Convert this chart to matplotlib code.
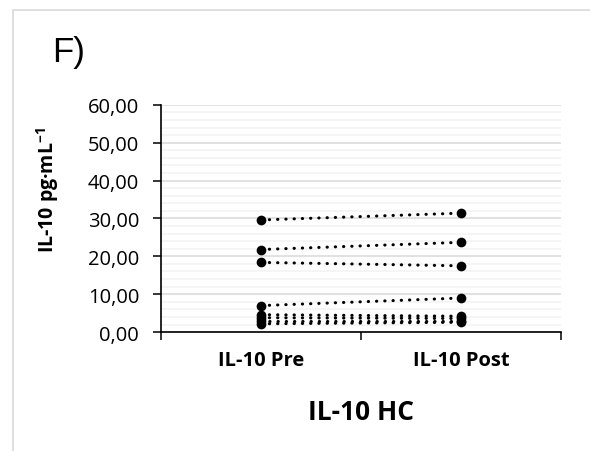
import numpy as np
import matplotlib
matplotlib.use("Agg")
import matplotlib.pyplot as plt
from matplotlib.patches import Rectangle
from matplotlib.ticker import FuncFormatter, MultipleLocator

plt.rcParams['font.family'] = ['Open Sans', 'DejaVu Sans']
plt.rcParams['mathtext.default'] = 'regular'

# values (IL-10, pg/mL), one line per subject
categories = ['IL-10 Pre', 'IL-10 Post']
pre = [29.6, 21.8, 18.4, 7.0, 4.6, 3.8, 3.0, 2.2]
post = [31.4, 23.7, 17.5, 9.0, 4.2, 3.6, 3.0, 2.6]

fig = plt.figure(figsize=(5.9, 4.52), dpi=100)
ax = fig.add_axes([0.273, 0.263, 0.678, 0.503])

x = [1, 2]
for a, b in zip(pre, post):
    ax.plot(x, [a, b], color='black', lw=2.2, linestyle=(0, (0.1, 2.6)),
            dash_capstyle='round', marker='o', markersize=7,
            markeredgewidth=0, markerfacecolor='black', zorder=3)

ax.set_xlim(0.5, 2.5)
ax.set_ylim(0, 60)

# excel-like grid: major every 10, minor every 2
ax.yaxis.set_major_locator(MultipleLocator(10))
ax.yaxis.set_minor_locator(MultipleLocator(2))
ax.grid(axis='y', which='major', color='#d9d9d9', lw=1.1, zorder=1)
ax.grid(axis='y', which='minor', color='#f2f2f2', lw=1.1, zorder=0)
ax.set_axisbelow(True)
ax.yaxis.set_major_formatter(FuncFormatter(lambda v, p: '{:.2f}'.format(v).replace('.', ',')))
ax.tick_params(axis='y', which='major', length=5.8, width=1.1, labelsize=14.5, pad=10)
ax.tick_params(axis='y', which='minor', length=0)

# boundary ticks on x axis, category labels in between
ax.set_xticks([0.5, 1.5, 2.5])
ax.set_xticklabels([])
ax.set_xticks(x, minor=True)
ax.set_xticklabels(categories, minor=True, fontweight='bold', fontsize=14.5)
ax.tick_params(axis='x', which='major', length=5.5, width=1.1)
ax.tick_params(axis='x', which='minor', length=0, pad=13)

for s in ['top', 'right']:
    ax.spines[s].set_visible(False)
for s in ['left', 'bottom']:
    ax.spines[s].set_linewidth(1.2)

ax.set_ylabel('IL-10 pg·mL$^{-1}$', fontweight='bold', fontsize=14)
ax.yaxis.set_label_coords(-0.25, 0.63)
ax.set_xlabel('IL-10 HC', fontweight='bold', fontsize=19, labelpad=20)

fig.text(0.088, 0.862, 'F)', fontsize=25, family='Liberation Sans')

fig.add_artist(Rectangle((0.022, -0.1), 1.2, 1.076, transform=fig.transFigure,
                         fill=False, edgecolor='#d9d9d9', lw=1.2))

plt.savefig('out.png', dpi=100)
